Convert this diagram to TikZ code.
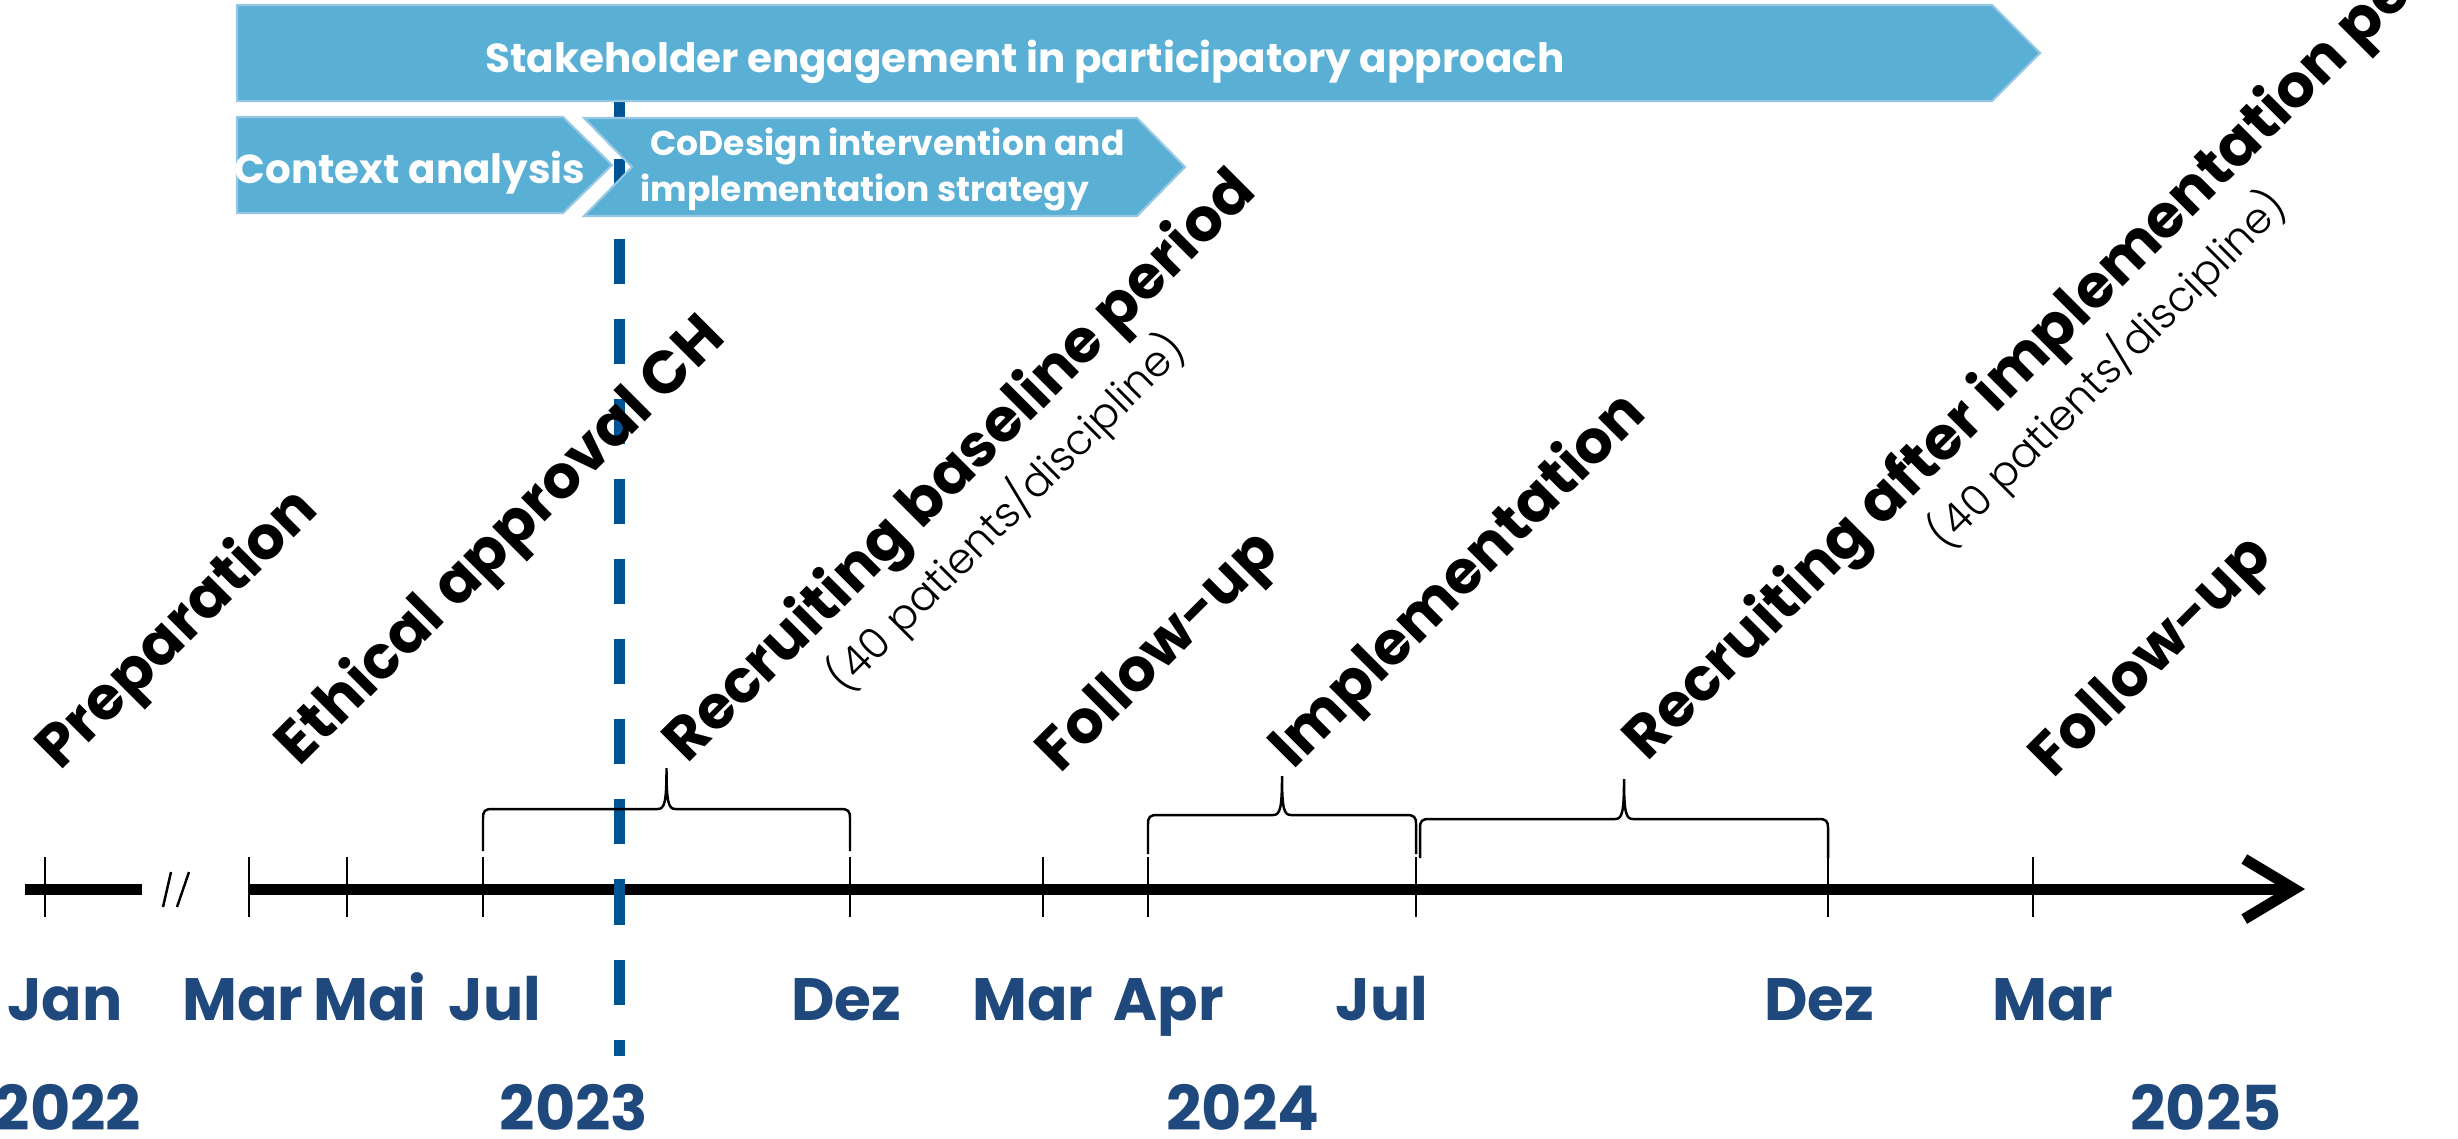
\documentclass[tikz,border=0pt]{standalone}
\usepackage{fontspec}
\setmainfont{Poppins}
\newfontfamily\lightfont{Poppins Light}
\usetikzlibrary{arrows.meta}

\definecolor{barblue}{RGB}{90,175,213}
\definecolor{baredge}{RGB}{150,200,228}
\definecolor{monthblue}{RGB}{31,73,125}
\definecolor{dashblue}{RGB}{0,84,147}

\tikzset{
  phase/.style={fill=barblue, draw=baredge, line width=0.6pt},
  phasetext/.style={text=white, inner sep=0pt, anchor=base, font=\bfseries\fontsize{11.5}{14}\selectfont},
  month/.style={text=monthblue, inner sep=0pt, anchor=base, font=\bfseries\fontsize{17}{20}\selectfont},
  year/.style={month, font=\bfseries\fontsize{17.6}{20}\selectfont},
  milestone/.style={rotate=45, anchor=base west, inner sep=0pt, font=\bfseries\fontsize{17}{20}\selectfont},
  patients/.style={rotate=45, anchor=north, inner sep=0pt, outer sep=0.05cm, font=\lightfont\fontsize{12}{14}\selectfont},
  tick/.style={line width=0.7pt},
  bracestyle/.style={line width=0.7pt},
}

% brace: left x, right x, foot y, bar y, tip y
\newcommand{\spanbrace}[5]{%
  \draw[bracestyle] (#1,#3) -- (#1,#4+9) .. controls (#1,#4+2) and (#1+2,#4) .. (#1+9,#4)
    -- ({(#1+#2)/2-9},#4) .. controls ({(#1+#2)/2-2},#4) and ({(#1+#2)/2},#4-6) .. ({(#1+#2)/2},#5)
    .. controls ({(#1+#2)/2},#4-6) and ({(#1+#2)/2+2},#4) .. ({(#1+#2)/2+9},#4)
    -- (#2-9,#4) .. controls (#2-2,#4) and (#2,#4+2) .. (#2,#4+9) -- (#2,#3);}

\begin{document}
\begin{tikzpicture}[x=0.01cm, y=-0.01cm]
  \useasboundingbox (0,0) rectangle (2458,1138);

  % time axis
  \draw[line width=0.11cm] (25,889) -- (142,889);
  \draw[tick] (163,907) -- (171,872);
  \draw[tick] (177,907) -- (189,872);
  \draw[line width=0.11cm, -{Straight Barb[length=0.5cm, width=0.6cm]}] (249,889) -- (2305,889);
  \foreach \x in {45,249,347,483,850,1043,1148,1416,1828,2033}
    \draw[tick] (\x,857) -- (\x,917);

  % months and years
  \foreach \x/\m [count=\i] in {65/Jan,243/Mar,370/Mai,495/Jul,846/Dez,1033/Mar,1169/Apr,1382/Jul,1819/Dez,2053/Mar}
    \node[month] (month\i) at (\x,1020) {\m};
  \foreach \x/\yr in {68/2022,574/2023,1243/2024,2206/2025}
    \node[year] (year\yr) at (\x,1130) {\yr};

  % start of the intervention
  \draw[dashblue, line width=0.11cm, dash pattern=on 0.45cm off 0.35cm] (619,79) -- (619,1056);

  % phases
  \draw[phase] (237,5) -- (1992,5) -- (2040,53) -- (1992,101) -- (237,101) -- cycle;
  \node[phasetext] (stake) at (1025,72) {Stakeholder engagement in participatory approach};
  \draw[phase] (237,117) -- (563,117) -- (612,165) -- (563,213) -- (237,213) -- cycle;
  \node[phasetext] (context) at (410,183) {Context analysis};
  \draw[phase] (584,118) -- (1137,118) -- (1185,167) -- (1137,216) -- (584,216) -- (632,167) -- cycle;
  \node[phasetext, anchor=north west, align=left, font=\bfseries\fontsize{9.8}{13}\selectfont]
    (codesign) at (640,127) {\hspace*{0.1cm}CoDesign intervention and\\implementation strategy};

  % milestones
  \node[milestone] (prep) at (60,772) {Preparation};
  \node[milestone] (ethics) at (299,768) {Ethical approval CH};
  \node[milestone] (base) at (687,765) {Recruiting baseline period};
  \node[patients] (basen) at (base.south) {(40 patients/discipline)};
  \node[milestone] (follow1) at (1060,775) {Follow-up};
  \node[milestone] (impl) at (1293,771) {Implementation};
  \node[milestone] (after) at (1647,763) {Recruiting after implementation period};
  \node[patients] (aftern) at (after.south) {(40 patients/discipline)};
  \node[milestone] (follow2) at (2053,780) {Follow-up};

  % braces
  \spanbrace{483}{850}{851}{809}{768}
  \spanbrace{1148}{1416}{854}{815}{776}
  \spanbrace{1420}{1828}{858}{819}{779}
\end{tikzpicture}
\end{document}
